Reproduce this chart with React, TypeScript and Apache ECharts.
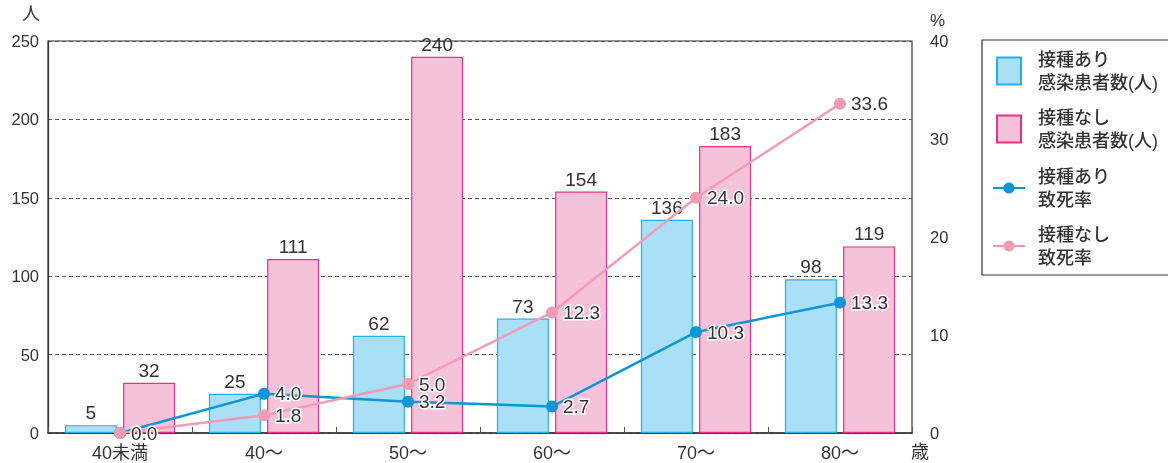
import React, { useEffect, useRef } from "react";
import * as echarts from "echarts";

const categories = ["40未満", "40～", "50～", "60～", "70～", "80～"];
const vaccinatedCases = [5, 25, 62, 73, 136, 98];
const unvaccinatedCases = [32, 111, 240, 154, 183, 119];
const vaccinatedFatality = [0.0, 4.0, 3.2, 2.7, 10.3, 13.3];
const unvaccinatedFatality = [0.0, 1.8, 5.0, 12.3, 24.0, 33.6];

const leftTicks = { min: 0, max: 250, interval: 50 };
const rightTicks = { min: 0, max: 40, interval: 10 };

const seriesNames = {
  vaxCases: "接種あり\n感染患者数(人)",
  unvaxCases: "接種なし\n感染患者数(人)",
  vaxRate: "接種あり\n致死率",
  unvaxRate: "接種なし\n致死率",
};

const FONT = "'Liberation Sans', 'Noto Sans CJK JP', sans-serif";
const TEXT = "#333333";

export default function App() {
  const ref = useRef<HTMLDivElement>(null);
  useEffect(() => {
    if (!ref.current) return;
    const chart = echarts.init(ref.current, undefined, { renderer: "svg" });
    const lineLabel = {
      show: true,
      position: "right" as const,
      distance: 5,
      fontSize: 19,
      fontFamily: FONT,
      color: TEXT,
      textBorderColor: "#ffffff",
      textBorderWidth: 3,
      formatter: (p: any) => Number(p.value).toFixed(1),
    };
    const barLabel = {
      show: true,
      position: "top" as const,
      distance: 3,
      fontSize: 19,
      color: TEXT,
      fontFamily: FONT,
    };
    const legendText = {
      fontSize: 18,
      lineHeight: 23,
      color: TEXT,
      fontFamily: FONT,
      fontWeight: 500,
    };
    chart.setOption({
      animation: false,
      textStyle: { fontFamily: FONT, color: TEXT },
      grid: {
        left: 48,
        right: 256,
        top: 41,
        bottom: 30,
        show: true,
        borderColor: "#333",
        borderWidth: 1.2,
      },
      legend: [
        {
          data: [
            { name: seriesNames.vaxCases, icon: "rect" },
            { name: seriesNames.unvaxCases, icon: "rect" },
          ],
          orient: "vertical",
          left: 996,
          top: 48,
          padding: 0,
          itemWidth: 24,
          itemHeight: 27,
          itemGap: 12,
          selectedMode: false,
          textStyle: { ...legendText, padding: [0, 0, 0, 12] },
        },
        {
          data: [seriesNames.vaxRate, seriesNames.unvaxRate],
          orient: "vertical",
          left: 992,
          top: 165,
          padding: 0,
          itemWidth: 32,
          itemHeight: 14,
          itemGap: 12,
          selectedMode: false,
          textStyle: { ...legendText, padding: [0, 0, 0, 8] },
        },
      ],
      xAxis: {
        type: "category",
        data: categories,
        axisLine: { lineStyle: { color: "#333", width: 1.5 } },
        axisTick: { show: true, inside: true, length: 6, lineStyle: { color: "#555" } },
        axisLabel: { fontSize: 18, color: TEXT, margin: 11, fontFamily: FONT },
      },
      yAxis: [
        {
          type: "value",
          ...leftTicks,
          axisLine: { show: true, lineStyle: { color: "#333", width: 1.2 } },
          axisTick: { show: false },
          axisLabel: { fontSize: 16.5, color: TEXT, margin: 9, fontFamily: FONT },
          splitLine: { lineStyle: { type: [4, 3], color: "#555", width: 1 } },
        },
        {
          type: "value",
          ...rightTicks,
          position: "right",
          axisLine: { show: false },
          axisTick: { show: false },
          axisLabel: { fontSize: 16.5, color: TEXT, margin: 18, fontFamily: FONT },
          splitLine: { show: false },
        },
      ],
      series: [
        {
          name: seriesNames.vaxCases,
          type: "bar",
          data: vaccinatedCases,
          barWidth: 52,
          barGap: "12%",
          itemStyle: { color: "#aadff8", borderColor: "#22b2e8", borderWidth: 1.2 },
          label: barLabel,
        },
        {
          name: seriesNames.unvaxCases,
          type: "bar",
          data: unvaccinatedCases,
          barWidth: 52,
          barGap: "12%",
          itemStyle: { color: "#f6c2d9", borderColor: "#e5318b", borderWidth: 1.2 },
          label: barLabel,
        },
        {
          name: seriesNames.vaxRate,
          type: "line",
          yAxisIndex: 1,
          data: vaccinatedFatality,
          symbol: "circle",
          symbolSize: 12,
          lineStyle: { color: "#0b97d6", width: 2.5 },
          itemStyle: { color: "#0b97d6" },
          label: lineLabel,
          z: 3,
        },
        {
          name: seriesNames.unvaxRate,
          type: "line",
          yAxisIndex: 1,
          data: unvaccinatedFatality,
          symbol: "circle",
          symbolSize: 12,
          lineStyle: { color: "#f29bb3", width: 2.5 },
          itemStyle: { color: "#f29bb3" },
          label: lineLabel,
          z: 4,
        },
      ],
      graphic: [
        {
          type: "rect",
          shape: { x: 982, y: 40, width: 220, height: 235 },
          style: { fill: "none", stroke: "#333", lineWidth: 1.2 },
          z: 0,
        },
        {
          type: "text",
          x: 22,
          y: 5,
          style: { text: "人", fontSize: 18, fill: TEXT, fontFamily: FONT },
        },
        {
          type: "text",
          x: 930,
          y: 12,
          style: { text: "%", fontSize: 17, fill: TEXT, fontFamily: FONT },
        },
        {
          type: "text",
          x: 911,
          y: 443,
          style: { text: "歳", fontSize: 18, fill: TEXT, fontFamily: FONT },
        },
      ],
    });
    return () => chart.dispose();
  }, []);
  return (
    <div
      ref={ref}
      style={{ position: "fixed", left: 0, top: 0, width: 1168, height: 463 }}
    />
  );
}
